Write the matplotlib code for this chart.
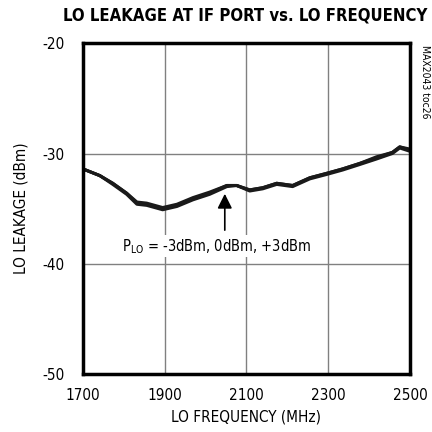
import matplotlib.pyplot as plt

freq = [1700, 1741, 1773, 1807, 1832, 1856, 1895, 1930, 1969, 2010, 2052, 2076,
        2108, 2140, 2174, 2213, 2255, 2296, 2335, 2377, 2418, 2457, 2475, 2500]
p_m3 = [-31.4, -32.0, -32.7, -33.6, -34.4, -34.5, -34.9, -34.6, -34.0, -33.5, -32.9, -32.9,
        -33.3, -33.1, -32.7, -32.9, -32.2, -31.8, -31.4, -30.9, -30.3, -29.9, -29.4, -29.6]
p_0 = [-31.4, -32.0, -32.7, -33.6, -34.5, -34.6, -35.0, -34.7, -34.1, -33.6, -32.9, -32.9,
       -33.3, -33.1, -32.7, -32.9, -32.2, -31.8, -31.4, -30.9, -30.4, -29.9, -29.4, -29.7]
p_p3 = [-31.4, -32.0, -32.8, -33.7, -34.6, -34.7, -35.1, -34.8, -34.2, -33.7, -33.0, -32.9,
        -33.4, -33.2, -32.8, -33.0, -32.3, -31.9, -31.5, -31.0, -30.5, -30.0, -29.5, -29.8]

xticks = [1700, 1900, 2100, 2300, 2500]
yticks = [-50, -40, -30, -20]

plt.rcParams['font.family'] = ['DejaVu Sans']
plt.rcParams['font.stretch'] = 'condensed'
plt.rcParams['axes.unicode_minus'] = False

fig = plt.figure(figsize=(4.32, 4.32), dpi=100)
ax = fig.add_axes([0.192, 0.134, 0.757, 0.766])

for y in [p_m3, p_0, p_p3]:
    ax.plot(freq, y, color='#1a1a1a', linewidth=2.2)

ax.set_xlim(1700, 2500)
ax.set_ylim(-50, -20)
ax.set_xticks(xticks)
ax.set_yticks(yticks)
ax.grid(True, color='#808080', linewidth=1)
ax.tick_params(length=0, labelsize=11)
ax.tick_params(axis='x', pad=10)
ax.tick_params(axis='y', pad=13)
for s in ax.spines.values():
    s.set_linewidth(2.5)

ax.set_xlabel('LO FREQUENCY (MHz)', fontsize=11, labelpad=5)
ax.set_ylabel('LO LEAKAGE (dBm)', fontsize=11, labelpad=10)
fig.text(0.567, 0.964, 'LO LEAKAGE AT IF PORT vs. LO FREQUENCY', ha='center', va='center',
         fontsize=12, fontweight='heavy')
fig.text(0.984, 0.81, 'MAX2043 toc26', rotation=270, ha='center', va='center', fontsize=7.5)

ax.annotate('', xy=(2047, -33.4), xytext=(2047, -37.2),
            arrowprops=dict(arrowstyle='-|>', color='black', lw=1.2, mutation_scale=22))
ax.text(2028, -38.4, r'P$_{\mathregular{LO}}$ = -3dBm, 0dBm, +3dBm', ha='center', va='center',
        fontsize=10.5, bbox=dict(facecolor='white', edgecolor='none', pad=1))

fig.savefig('out.png', dpi=100)
